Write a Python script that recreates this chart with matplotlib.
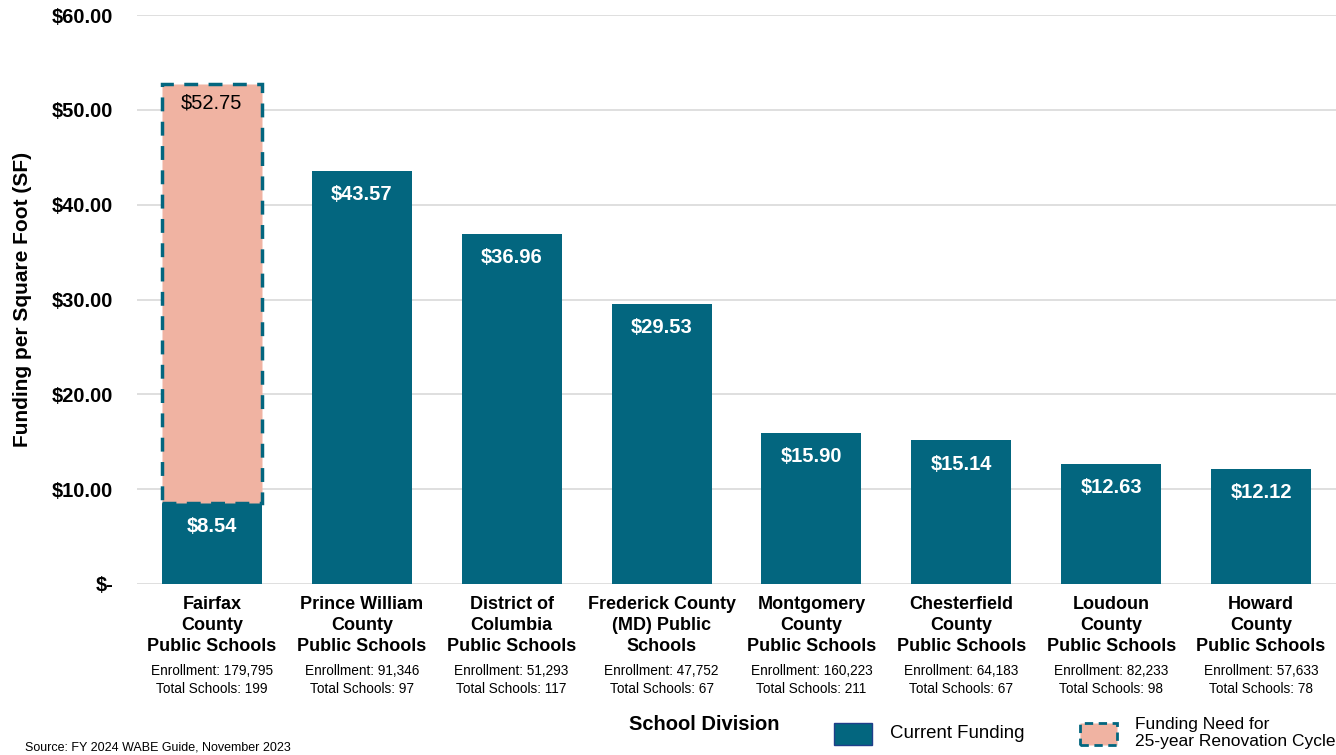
import matplotlib.pyplot as plt
from matplotlib.patches import Rectangle
from matplotlib.transforms import blended_transform_factory

plt.rcParams['font.family'] = ['Liberation Sans', 'DejaVu Sans']

# Data
divisions = ["Fairfax\nCounty\nPublic Schools", "Prince William\nCounty\nPublic Schools",
             "District of\nColumbia\nPublic Schools", "Frederick County\n(MD) Public\nSchools",
             "Montgomery\nCounty\nPublic Schools", "Chesterfield\nCounty\nPublic Schools",
             "Loudoun\nCounty\nPublic Schools", "Howard\nCounty\nPublic Schools"]
enrollment = ["179,795", "91,346", "51,293", "47,752", "160,223", "64,183", "82,233", "57,633"]
total_schools = [199, 97, 117, 67, 211, 67, 98, 78]
current_funding = [8.54, 43.57, 36.96, 29.53, 15.90, 15.14, 12.63, 12.12]
need_total = 52.75  # Fairfax funding need for 25-year renovation cycle

teal = '#03667f'
salmon = '#f0b3a2'

fig = plt.figure(figsize=(13.36, 7.55), dpi=100)
ax = fig.add_axes([0.1025, 0.2265, 0.8975, 0.7535])

x = list(range(len(divisions)))
ax.bar(x, current_funding, width=0.667, color=teal, zorder=3)
# Fairfax need bar stacked on top of current funding
ax.bar(0, need_total - current_funding[0], bottom=current_funding[0], width=0.667,
       color=salmon, edgecolor=teal, linewidth=2.5, linestyle=(0, (4, 3)), zorder=3)

for i, v in enumerate(current_funding):
    ax.text(i, v - 1.5, f"${v:.2f}", ha='center', va='top', color='white',
            fontsize=14.5, fontweight='bold', zorder=4)
ax.text(0, need_total - 1.0, f"${need_total:.2f}", ha='center', va='top',
        color='black', fontsize=14.5, zorder=4)

ax.set_xlim(-0.5, 7.5)
ax.set_ylim(0, 60)
ax.set_yticks(range(0, 61, 10))
ax.set_yticklabels(['$-'] + [f"${t:.2f}" for t in range(10, 61, 10)],
                   fontsize=14.5, fontweight='bold')
ax.tick_params(axis='y', length=0, pad=17)
ax.set_xticks([])
ax.grid(axis='y', color='#d9d9d9', linewidth=1.2, zorder=0)
for s in ax.spines.values():
    s.set_visible(False)

ax.set_ylabel("Funding per Square Foot (SF)", fontsize=15, fontweight='bold')
ax.yaxis.set_label_coords(-0.0876, 0.5)

trans = blended_transform_factory(ax.transData, fig.transFigure)
for i in x:
    ax.text(i, 1 - 596 / 755, divisions[i], transform=trans, ha='center', va='top',
            fontsize=13, fontweight='bold', linespacing=1.3)
    ax.text(i, 1 - 664 / 755, f"Enrollment: {enrollment[i]}\nTotal Schools: {total_schools[i]}",
            transform=trans, ha='center', va='top', fontsize=9.8, linespacing=1.35)

fig.text(704 / 1336, 1 - 725 / 755, "School Division", ha='center', va='center',
         fontsize=14.5, fontweight='bold')

# Legend
fig.patches.append(Rectangle((834 / 1336, 1 - 745 / 755), 38 / 1336, 22 / 755,
                             transform=fig.transFigure, facecolor=teal,
                             edgecolor='#1f3f8a', linewidth=1))
fig.text(890 / 1336, 1 - 734 / 755, "Current Funding", ha='left', va='center', fontsize=13.4)
fig.patches.append(Rectangle((1080 / 1336, 1 - 745 / 755), 37 / 1336, 22 / 755,
                             transform=fig.transFigure, facecolor=salmon,
                             edgecolor=teal, linewidth=2, linestyle=(0, (3, 2))))
fig.text(1135 / 1336, 1 - 733 / 755, "Funding Need for\n25-year Renovation Cycle",
         ha='left', va='center', fontsize=12.5, linespacing=1.2)

fig.text(25 / 1336, 1 - 747 / 755, "Source: FY 2024 WABE Guide, November 2023",
         ha='left', va='center', fontsize=9)

fig.savefig('out.png', dpi=100)
